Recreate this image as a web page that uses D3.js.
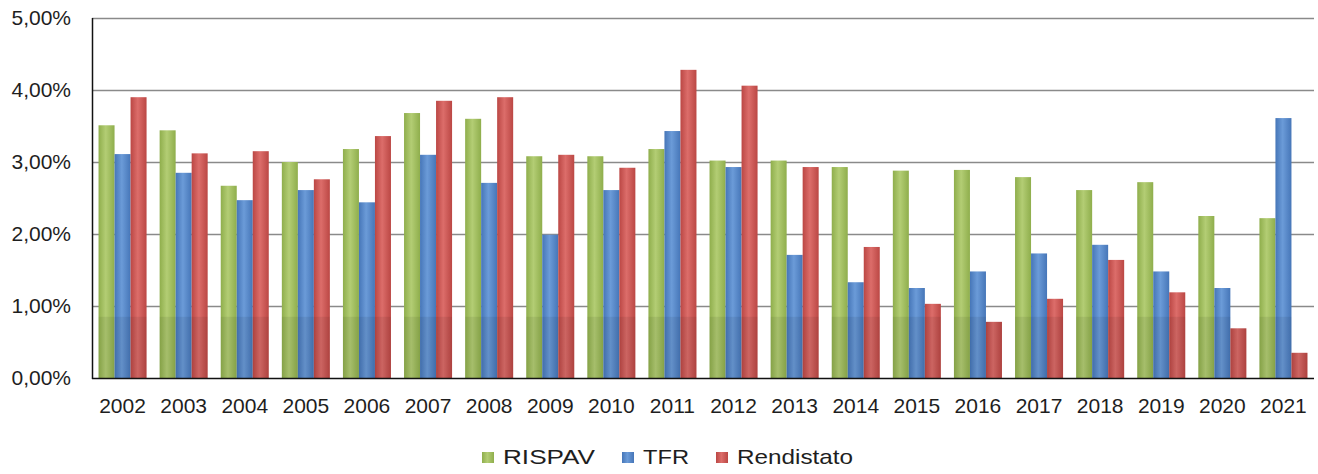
<!DOCTYPE html>
<html>
<head>
<meta charset="utf-8">
<script src="https://cdn.jsdelivr.net/npm/d3@7"></script>
<style>
  body { margin: 0; background: #fff; }
  text { font-family: "Liberation Sans", Arial, sans-serif; fill: #1e1e1e; }
</style>
</head>
<body>
<div id="chart"></div>
<script>
"use strict";

const years = ["2002", "2003", "2004", "2005", "2006", "2007", "2008", "2009", "2010", "2011",
   "2012", "2013", "2014", "2015", "2016", "2017", "2018", "2019", "2020", "2021"];
const seriesNames = ["RISPAV", "TFR", "Rendistato"];
const rispav = [3.51, 3.44, 2.67, 3.00, 3.18, 3.68, 3.60, 3.08, 3.08, 3.18,
   3.02, 3.02, 2.93, 2.88, 2.89, 2.79, 2.61, 2.72, 2.25, 2.22];
const tfr = [3.11, 2.85, 2.47, 2.61, 2.44, 3.10, 2.71, 1.99, 2.61, 3.43,
   2.93, 1.71, 1.33, 1.25, 1.48, 1.73, 1.85, 1.48, 1.25, 3.61];
const rendistato = [3.90, 3.12, 3.15, 2.76, 3.36, 3.85, 3.90, 3.10, 2.92, 4.28,
   4.06, 2.93, 1.82, 1.03, 0.78, 1.10, 1.64, 1.19, 0.69, 0.35];
const yTicks = [0, 1, 2, 3, 4, 5];

const palette = {
   "RISPAV": { edge: "#8fae4c", mid: "#b3cd74" },
   "TFR": { edge: "#4676b8", mid: "#6b9bd8" },
   "Rendistato": { edge: "#bb4744", mid: "#dc6d6a" }
};

const width = 1318, height = 474;
const margin = { top: 18, right: 4, bottom: 96, left: 92 };
const plotRight = width - margin.right;
const plotBottom = height - margin.bottom;

const values = { "RISPAV": rispav, "TFR": tfr, "Rendistato": rendistato };

const svg = d3.select("#chart").append("svg")
   .attr("width", width)
   .attr("height", height);

const defs = svg.append("defs");
seriesNames.forEach((name, i) => {
   const g = defs.append("linearGradient")
      .attr("id", "grad" + i)
      .attr("x1", "0").attr("x2", "1").attr("y1", "0").attr("y2", "0");
   g.append("stop").attr("offset", "0%").attr("stop-color", palette[name].edge);
   g.append("stop").attr("offset", "45%").attr("stop-color", palette[name].mid);
   g.append("stop").attr("offset", "100%").attr("stop-color", palette[name].edge);
});

const x0 = d3.scaleBand()
   .domain(years)
   .range([margin.left, plotRight])
   .paddingInner(0.214)
   .paddingOuter(0.107);

const x1 = d3.scaleBand()
   .domain(seriesNames)
   .range([0, x0.bandwidth()]);

const y = d3.scaleLinear()
   .domain([0, 5])
   .range([plotBottom, margin.top]);

// gridlines
svg.append("g")
   .selectAll("line")
   .data(yTicks.filter(t => t > 0))
   .join("line")
   .attr("x1", margin.left)
   .attr("x2", plotRight)
   .attr("y1", d => y(d) + 0.5)
   .attr("y2", d => y(d) + 0.5)
   .attr("stroke", "#8a8a8a")
   .attr("stroke-width", 1.3);

// bars
const groups = svg.append("g")
   .selectAll("g")
   .data(years)
   .join("g")
   .attr("transform", d => `translate(${x0(d)},0)`);

groups.selectAll("rect.bar")
   .data((yr, i) => seriesNames.map((s, k) => ({ s, k, v: values[s][i] })))
   .join("rect")
   .attr("class", "bar")
   .attr("x", d => x1(d.s))
   .attr("width", x1.bandwidth())
   .attr("y", d => y(d.v))
   .attr("height", d => plotBottom - y(d.v))
   .attr("fill", d => "url(#grad" + d.k + ")");

// darker lower band on the bars
const shadeLevel = 0.85;
groups.selectAll("rect.shade")
   .data((yr, i) => seriesNames.map((s, k) => ({ s, k, v: values[s][i] })))
   .join("rect")
   .attr("class", "shade")
   .attr("x", d => x1(d.s))
   .attr("width", x1.bandwidth())
   .attr("y", d => y(Math.min(d.v, shadeLevel)))
   .attr("height", d => plotBottom - y(Math.min(d.v, shadeLevel)))
   .attr("fill", "#000")
   .attr("opacity", 0.07);

// axes lines
svg.append("line")
   .attr("x1", margin.left + 0.5).attr("x2", margin.left + 0.5)
   .attr("y1", margin.top).attr("y2", plotBottom + 1)
   .attr("stroke", "#111").attr("stroke-width", 1.5);

svg.append("line")
   .attr("x1", margin.left).attr("x2", plotRight)
   .attr("y1", plotBottom + 0.5).attr("y2", plotBottom + 0.5)
   .attr("stroke", "#111").attr("stroke-width", 1.5);

// y labels
const fmt = v => v.toFixed(2).replace(".", ",") + "%";
svg.append("g")
   .selectAll("text")
   .data(yTicks)
   .join("text")
   .attr("x", 71)
   .attr("y", d => y(d))
   .attr("dy", "0.35em")
   .attr("text-anchor", "end")
   .style("font-size", "21px")
   .text(fmt);

// x labels
svg.append("g")
   .selectAll("text")
   .data(years)
   .join("text")
   .attr("x", d => x0(d) + x0.bandwidth() / 2)
   .attr("y", 413)
   .attr("text-anchor", "middle")
   .style("font-size", "21px")
   .text(d => d);

// legend
const legendItems = [
   { name: "RISPAV", x: 482, len: 92 },
   { name: "TFR", x: 622, len: 46 },
   { name: "Rendistato", x: 716, len: 116 }
];
const legend = svg.append("g");
legendItems.forEach((item, i) => {
   legend.append("rect")
      .attr("x", item.x)
      .attr("y", 452)
      .attr("width", 12)
      .attr("height", 11)
      .attr("fill", "url(#grad" + i + ")");
   legend.append("text")
      .attr("x", item.x + 21)
      .attr("y", 464)
      .attr("textLength", item.len)
      .attr("lengthAdjust", "spacingAndGlyphs")
      .style("font-size", "21px")
      .text(item.name);
});
</script>
</body>
</html>
